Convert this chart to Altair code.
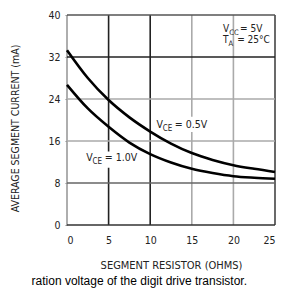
import altair as alt
import pandas as pd

# data
x_vals = [0, 2.5, 5, 7.5, 10, 12.5, 15, 17.5, 20, 22.5, 25]
i_vce05 = [33.3, 28.0, 23.8, 20.5, 17.8, 15.5, 13.7, 12.4, 11.4, 10.7, 10.1]
i_vce10 = [26.7, 22.2, 18.7, 15.7, 13.5, 11.9, 10.7, 9.9, 9.3, 9.0, 8.8]

x_ticks = [0, 5, 10, 15, 20, 25]
y_ticks = [0, 8, 16, 24, 32, 40]
vgrid_col = ["#9a9a9a", "#222222", "#222222", "#aaaaaa", "#aaaaaa", "#444444"]
hgrid_col = ["#333333", "#666666", "#aaaaaa", "#aaaaaa", "#222222", "#555555"]

ann_text = ["V", "CE", "= 0.5V", "V", "CE", "= 1.0V", "V", "CC", "= 5V", "T", "A", "= 25°C"]
ann_x = [10.75, 11.5, 12.95, 2.3, 3.05, 4.55, 18.75, 19.5, 20.8, 18.75, 19.4, 20.45]
ann_y = [19.1, 18.3, 19.1, 12.8, 12.0, 12.8, 37.3, 36.6, 37.3, 35.2, 34.5, 35.2]
ann_size = [10.5, 8, 10.5, 10.5, 8, 10.5, 10, 7.5, 10, 10, 7.5, 10]

# white boxes behind the two curve labels
box_x1 = [10.45, 2.0]
box_x2 = [17.5, 9.3]
box_y1 = [17.7, 10.9]
box_y2 = [20.6, 14.0]

FONT = "DejaVu Sans Condensed, Liberation Sans Narrow, sans-serif"

curves = pd.DataFrame({
    "r": x_vals * 2,
    "i": i_vce05 + i_vce10,
    "s": ["0.5"] * len(x_vals) + ["1.0"] * len(x_vals),
})
vg = pd.DataFrame({"x": x_ticks, "c": vgrid_col})
hg = pd.DataFrame({"y": y_ticks, "c": hgrid_col})
ann = pd.DataFrame({"t": ann_text, "x": ann_x, "y": ann_y, "fs": ann_size})
boxes = pd.DataFrame({"x1": box_x1, "x2": box_x2, "y1": box_y1, "y2": box_y2})

xs = alt.Scale(domain=[0, 25], nice=False)
ys = alt.Scale(domain=[0, 40], nice=False)

vrules = alt.Chart(vg).mark_rule(strokeWidth=1.6).encode(
    x=alt.X("x:Q", scale=xs,
            axis=alt.Axis(values=x_ticks, title="SEGMENT RESISTOR (OHMS)", grid=False,
                          domain=False, ticks=False, labelPadding=10, titlePadding=14,
                          labelFont=FONT, labelFontSize=10.5, labelColor="#222",
                          titleFont=FONT, titleFontSize=11, titleFontWeight="normal",
                          titleColor="#222")),
    color=alt.Color("c:N", scale=None),
)
hrules = alt.Chart(hg).mark_rule(strokeWidth=1.6).encode(
    y=alt.Y("y:Q", scale=ys,
            axis=alt.Axis(values=y_ticks, title="AVERAGE SEGMENT CURRENT (mA)", grid=False,
                          domain=False, ticks=True, tickSize=2, tickColor="#888",
                          labelPadding=5, titlePadding=27, titleY=113,
                          labelFont=FONT, labelFontSize=10.5, labelColor="#222",
                          titleFont=FONT, titleFontSize=10.5, titleFontWeight="normal",
                          titleColor="#222")),
    color=alt.Color("c:N", scale=None),
)
bg = alt.Chart(boxes).mark_rect(color="white").encode(
    x=alt.X("x1:Q", scale=xs), x2="x2:Q", y=alt.Y("y1:Q", scale=ys), y2="y2:Q"
)
lines = alt.Chart(curves).mark_line(color="black", strokeWidth=2.6, interpolate="monotone").encode(
    x=alt.X("r:Q", scale=xs), y=alt.Y("i:Q", scale=ys), detail="s:N"
)
labels = alt.Chart(ann).mark_text(align="left", baseline="middle", font=FONT, color="#222").encode(
    x=alt.X("x:Q", scale=xs), y=alt.Y("y:Q", scale=ys), text="t:N",
    size=alt.Size("fs:Q", scale=None),
)
caption = alt.Chart(pd.DataFrame({"t": ["ration voltage of the digit drive transistor."]})).mark_text(
    align="right", baseline="alphabetic", font="Liberation Sans, Arial, sans-serif", fontSize=12,
    color="black"
).encode(x=alt.value(180), y=alt.value(270), text="t:N")

chart = alt.layer(vrules, hrules, bg, lines, labels, caption).properties(
    width=208, height=210,
    autosize=alt.AutoSizeParams(type="none"),
    padding={"left": 59, "top": 7, "right": 1, "bottom": 64},
).configure_view(stroke=None)

chart.save("out.html", embed_options={"renderer": "svg", "actions": False})
